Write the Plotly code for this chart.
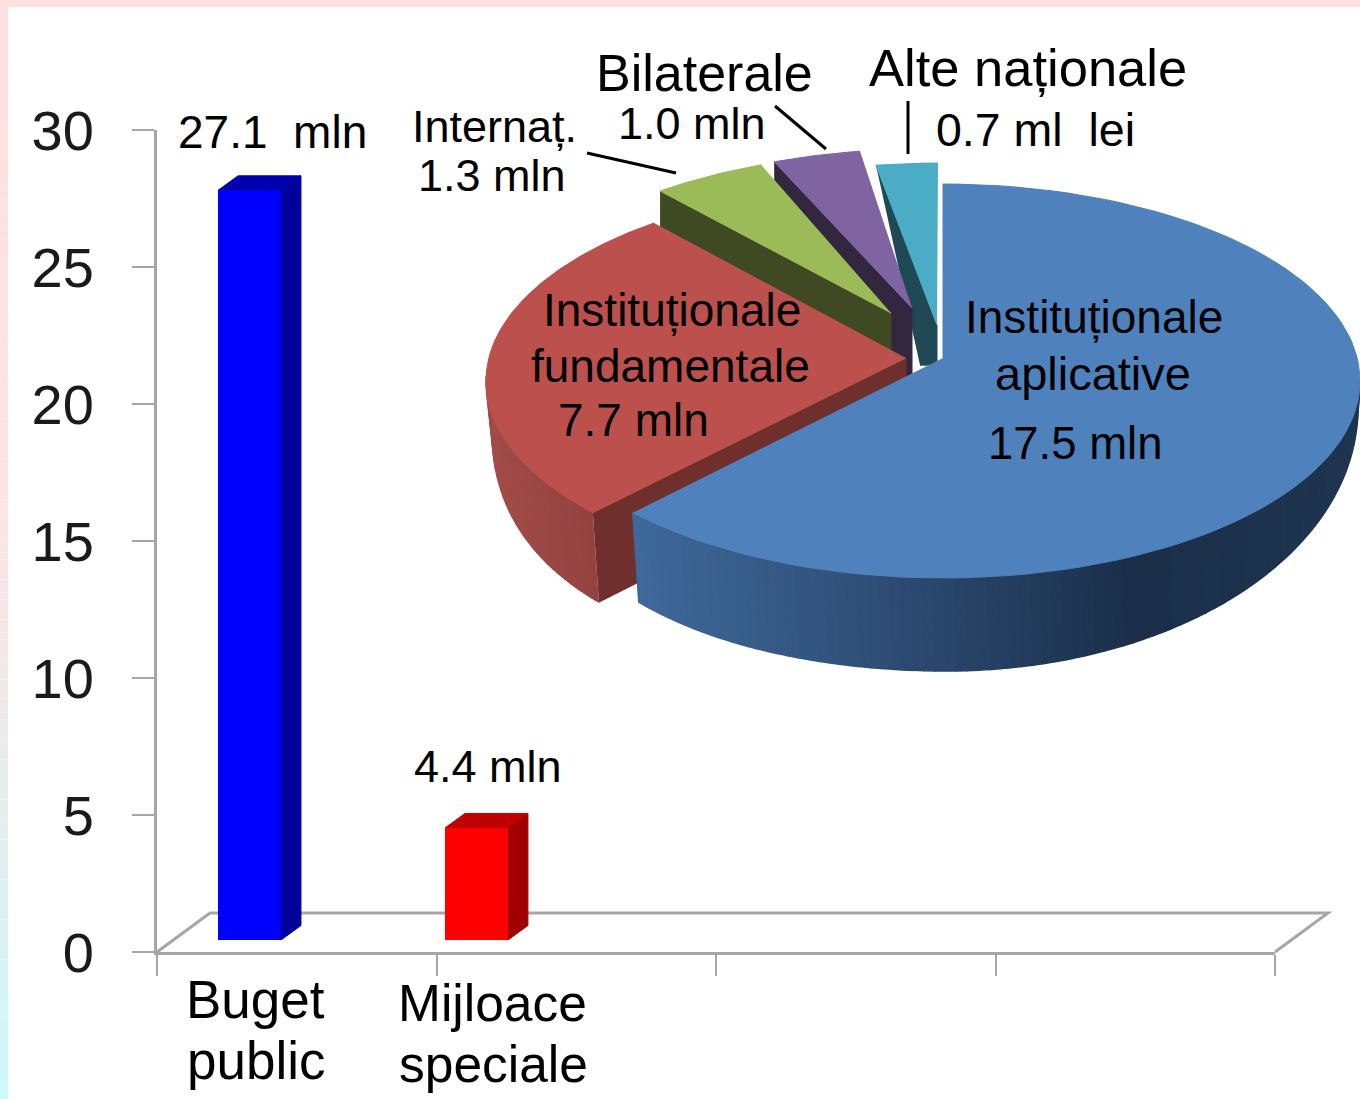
import numpy as np
import plotly.graph_objects as go

# ---------- data ----------
bar_categories = ["Buget public", "Mijloace speciale"]
bar_positions = [0.331, 1.143]
bar_heights = [27.36, 4.09]
bar_labels = ["27.1  mln", "4.4 mln"]
y_ticks = [0, 5, 10, 15, 20, 25, 30]
x_ticks = [0, 1, 2, 3, 4]

pie_names = ["Instituționale aplicative", "Instituționale fundamentale", "Internaț.", "Bilaterale", "Alte naționale"]
pie_values = [17.5, 7.7, 1.3, 1.0, 0.7]

# ---------- style / layout constants ----------
W, H = 1360, 1099
X0, X1, Y0, Y30 = 157, 1275, 952, 130
PXX = (X1 - X0) / 4
PXY = (Y0 - Y30) / 30
BAR_W = 0.225
BAR_BASE = 12 / PXY
DEPTH_X = 20 / PXX
DEPTH_Y = 14.5 / PXY
bar_front = ["#0000FF", "#FF0000"]
bar_side = ["#00009A", "#A00000"]
bar_top = ["#0000AE", "#C00000"]
GRAY = "#A6A6A6"
FONT = "Liberation Sans"

RX, RY = 417, 197
# per-slice: rim ellipse centre, apex, top colour, cut-face colour
slice_centre = [(943, 381), (903, 381), (909, 349), (922, 346), (938, 360)]
slice_apex = [(943, 358), (906, 358), (891, 313), (912, 308), (937, 325)]
slice_top = ["#4F81BD", "#BC504C", "#9BBB59", "#8064A2", "#4BACC6"]
slice_cut = [None, "#6F2F2D", "#3F4A22", "#33273F", "#1F4A55"]
# cut-face lower offsets: (rim dx, rim dy, apex dx, apex dy); None = follow the wall depth
cut_offset = [None, None, (0, 90, 0, 90), (0, 90, 0, 90), (44, 200, 0, 40)]

WALL_DEPTH = 93
WALL_SHIFT = 6

blue_x = [632, 900, 1130, 1360]
blue_rgb = [(63, 106, 155), (45, 75, 114), (27, 47, 74), (31, 53, 80)]
red_x = [486, 600]
red_rgb = [(163, 76, 73), (147, 66, 64)]


def warp(t):
    return t + 5 * np.sin(np.radians(t) / 2)


def rim(i, t):
    cx, cy = slice_centre[i]
    r = np.radians(t)
    return cx + RX * np.sin(r), cy - RY * np.cos(r)


def wall_depth(t):
    t = np.asarray(t, dtype=float)
    right = WALL_DEPTH * np.sin(np.pi / 2 * (t - 72) / 108)
    left = WALL_DEPTH * (1 - 0.46 * ((t - 180) / 90) ** 4)
    return np.where(t <= 180, right, left)


def wall_shift(t):
    return np.interp(t, [90, 228], [-2, WALL_SHIFT])


def lerp_colour(x, xs, cols):
    return "rgb(%d,%d,%d)" % tuple(np.interp(x, xs, [c[k] for c in cols]) for k in range(3))


def poly(xs, ys, color, xa="x2", ya="y2", width=1.0):
    return go.Scatter(x=list(xs), y=list(ys), xaxis=xa, yaxis=ya, mode="lines", fill="toself",
                      fillcolor=color, line=dict(color=color, width=width),
                      hoverinfo="skip", showlegend=False)


fig = go.Figure()

# bars
fig.add_trace(go.Bar(x=bar_positions, y=bar_heights, base=BAR_BASE, width=BAR_W,
                     marker=dict(color=bar_front, line=dict(width=0)),
                     hoverinfo="skip", showlegend=False))
for p, h, s, t in zip(bar_positions, bar_heights, bar_side, bar_top):
    l, r = p - BAR_W / 2, p + BAR_W / 2
    b, u = BAR_BASE, BAR_BASE + h
    fig.add_trace(poly([r, r + DEPTH_X, r + DEPTH_X, r], [b, b + DEPTH_Y, u + DEPTH_Y, u], s, "x", "y"))
    fig.add_trace(poly([l, l + DEPTH_X, r + DEPTH_X, r], [u, u + DEPTH_Y, u + DEPTH_Y, u], t, "x", "y"))

# pie geometry from the values
edges = np.concatenate([[0], np.cumsum(pie_values)]) / np.sum(pie_values) * 360
edges = warp(edges)

for i in [4, 3, 2, 1, 0]:
    a0, a1 = edges[i], edges[i + 1]
    apex = slice_apex[i]
    # outer wall
    if i in (0, 1):
        if i == 0:
            th = np.append(np.arange(90, a1, 1.5), a1)
        else:
            th = np.append(a0, np.arange(a0 + 1.5, 272, 1.5))
        for t0, t1 in zip(th[:-1], th[1:]):
            tt = np.linspace(t0, t1, 3)
            xt, yt = rim(i, tt)
            xb, yb = xt + wall_shift(tt), yt + wall_depth(tt)
            xm = (xt[0] + xt[-1]) / 2
            c = lerp_colour(xm, blue_x, blue_rgb) if i == 0 else lerp_colour(xm, red_x, red_rgb)
            fig.add_trace(poly(np.r_[xt, xb[::-1]], np.r_[yt, yb[::-1]], c, width=1.5))
    # cut face
    if slice_cut[i]:
        rx_, ry_ = rim(i, a0)
        o = cut_offset[i] or (float(wall_shift(a0)), float(wall_depth(a0)), 0, float(wall_depth(a0)))
        fig.add_trace(poly([rx_, apex[0], apex[0] + o[2], rx_ + o[0]],
                           [ry_, apex[1], apex[1] + o[3], ry_ + o[1]], slice_cut[i]))
    # top surface
    tt = np.linspace(a0, a1, 120)
    xt, yt = rim(i, tt)
    fig.add_trace(poly(np.r_[apex[0], xt], np.r_[apex[1], yt], slice_top[i]))

# leader lines
leader_x = [[587, 676], [775, 826], [908, 908]]
leader_y = [[153, 173], [106, 149], [101, 154]]
for lx, ly in zip(leader_x, leader_y):
    fig.add_trace(go.Scatter(x=lx, y=ly, xaxis="x2", yaxis="y2", mode="lines",
                             line=dict(color="#000000", width=3), hoverinfo="skip", showlegend=False))

# text
texts = [
    (bar_labels[0], 272, 132, 46), (bar_labels[1], 488, 766, 45),
    ("Internaț.", 494, 126, 45), ("1.3 mln", 492, 175, 45),
    ("Bilaterale", 704, 73, 52), ("1.0 mln", 692, 123, 45),
    ("Alte naționale", 1028, 67, 52.5), ("0.7 ml\u00a0 lei", 1035, 130, 46.5),
    ("Instituționale", 672, 310, 46), ("fundamentale", 670, 366, 46), ("7.7 mln", 633, 420, 46),
    ("Instituționale", 1094, 317, 46), ("aplicative", 1093, 373, 47), ("17.5 mln", 1075, 443, 45.5),
    ("Buget", 255, 999, 53), ("public", 256, 1060, 53),
    ("Mijloace", 492, 1003, 51.5), ("speciale", 493, 1064, 51.5),
]
annotations = [dict(text=t, x=x, y=y, xref="x2", yref="y2", showarrow=False, xanchor="center",
                    yanchor="middle", font=dict(family=FONT, size=s, color="#000000"))
               for t, x, y, s in texts]

# page band and floor
shapes = []
stops_y = [0, 500, 780, 1099]
stops_c = [(255, 224, 224), (255, 228, 228), (232, 236, 236), (204, 250, 250)]
band_edges = np.linspace(0, H, 56)
for y0, y1 in zip(band_edges[:-1], band_edges[1:]):
    c = lerp_colour((y0 + y1) / 2, stops_y, stops_c)
    shapes.append(dict(type="rect", xref="paper", yref="paper", x0=0, x1=8 / W, y0=1 - y1 / H, y1=1 - y0 / H,
                       fillcolor=c, line=dict(width=0), layer="below"))
shapes.append(dict(type="rect", xref="paper", yref="paper", x0=0, x1=1, y0=1 - 7 / H, y1=1,
                   fillcolor="#FFE0E0", line=dict(width=0), layer="below"))
FLOOR_DX, FLOOR_DY = 53, 39
fx = [X0, X0 + FLOOR_DX, X1 + FLOOR_DX, X1]
fy = [Y0, Y0 - FLOOR_DY, Y0 - FLOOR_DY, Y0]
floor_path = "M " + " L ".join(f"{x / W} {1 - y / H}" for x, y in zip(fx, fy))
shapes.append(dict(type="path", xref="paper", yref="paper", layer="below", line=dict(color=GRAY, width=3),
                   path=floor_path))

fig.update_layout(
    width=W, height=H, margin=dict(l=0, r=0, t=0, b=0, autoexpand=False), paper_bgcolor="#FFFFFF",
    plot_bgcolor="rgba(0,0,0,0)",
    showlegend=False, annotations=annotations, shapes=shapes, bargap=0,
    xaxis=dict(domain=[X0 / W, X1 / W], range=[0, 4], tickmode="array", tickvals=x_ticks, showticklabels=False,
               ticks="outside", ticklen=21, tickwidth=2, tickcolor=GRAY, showline=True, linecolor=GRAY, linewidth=3,
               showgrid=False, zeroline=False, fixedrange=True, anchor="y"),
    yaxis=dict(domain=[1 - Y0 / H, 1 - Y30 / H], range=[0, 30], tickmode="array", tickvals=y_ticks,
               ticks="outside", ticklen=22, tickwidth=2, tickcolor=GRAY, showline=True, linecolor=GRAY, linewidth=3,
               showgrid=False, zeroline=False, fixedrange=True, ticklabelstandoff=27, anchor="x",
               tickfont=dict(family=FONT, size=56, color="#1A1A1A")),
    xaxis2=dict(domain=[0, 1], range=[0, W], anchor="y2", visible=False, fixedrange=True),
    yaxis2=dict(domain=[0, 1], range=[H, 0], anchor="x2", visible=False, fixedrange=True),
)

fig.write_html("out.html", config=dict(displayModeBar=False), post_script="document.body.style.margin='0';")
